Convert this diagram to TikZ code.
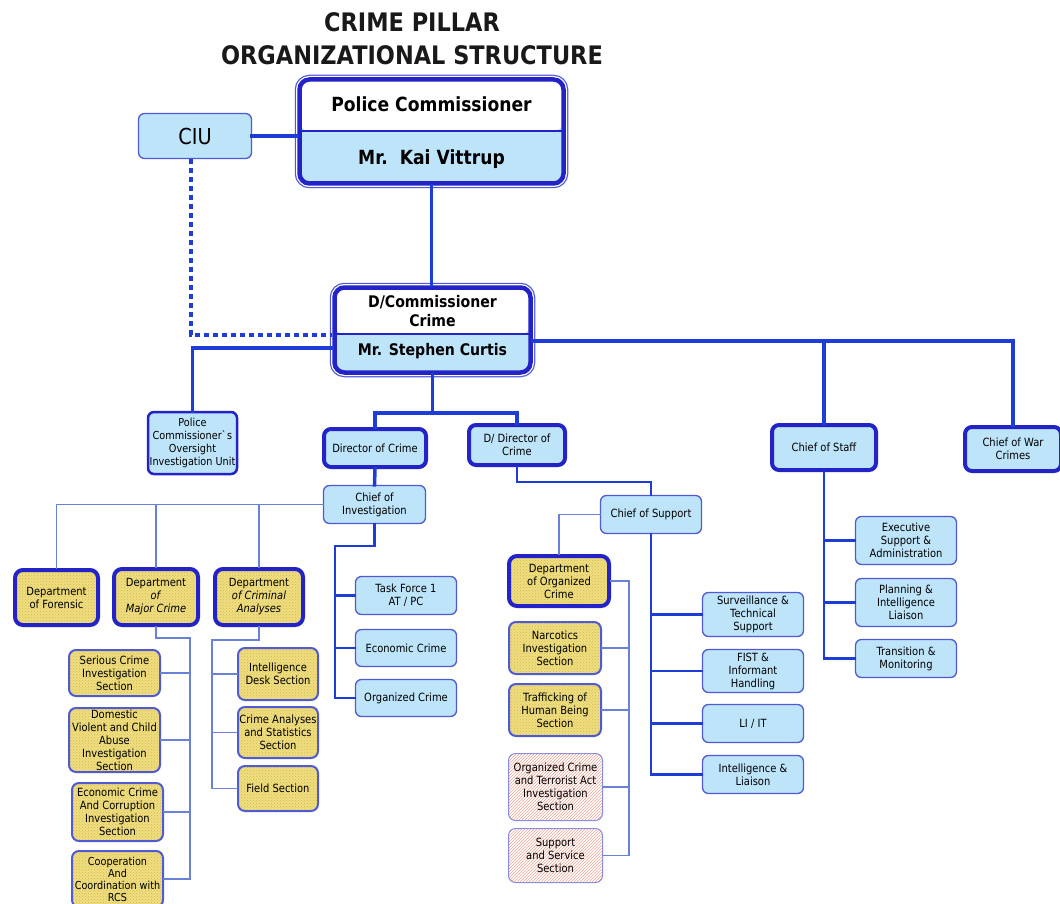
\documentclass[tikz,border=0pt]{standalone}
\usepackage{fontspec}
\setmainfont{DejaVu Sans}[FakeStretch=0.88]
\usetikzlibrary{patterns}

\definecolor{boxfill}{RGB}{190,228,250}
\definecolor{boxedge}{RGB}{80,90,210}
\definecolor{deepblue}{RGB}{35,35,200}
\definecolor{lineblue}{RGB}{30,60,215}
\definecolor{thinblue}{RGB}{105,130,215}
\definecolor{secyellow}{RGB}{240,222,125}
\definecolor{secdots}{RGB}{205,185,95}
\definecolor{hatchred}{RGB}{240,165,150}
\definecolor{hatchedge}{RGB}{140,140,220}

\newcommand{\orgfont}{\fontsize{11.3}{13}\selectfont}

\begin{document}
\begin{tikzpicture}[x=1pt, y=-1pt,
    orgunit/.style={rounded corners=6, fill=boxfill, draw=boxedge, line width=1.3,
        align=center, font=\orgfont, inner sep=0.5pt},
    headunit/.style={orgunit, draw=deepblue, line width=4, rounded corners=7},
    deptbox/.style={rounded corners=8, preaction={fill=secyellow}, pattern=crosshatch dots,
        pattern color=secdots, draw=deepblue, line width=4, align=center, font=\orgfont, inner sep=0.5pt},
    sectionbox/.style={deptbox, rounded corners=7, draw=boxedge, line width=2},
    newsection/.style={rounded corners=7, preaction={fill=white}, pattern=north east lines,
        pattern color=hatchred, draw=hatchedge, line width=1, align=center, font=\orgfont, inner sep=0.5pt},
    chiefbox/.style={rounded corners=10, fill=boxfill, draw=deepblue, line width=4.5, inner sep=0pt,
        preaction={draw=boxedge, line width=9.5}, preaction={draw=white, line width=7},
        path picture={
            \fill[white] (path picture bounding box.north west) rectangle ([yshift=-#1]path picture bounding box.north east);
            \draw[deepblue, line width=1.2] ([yshift=-#1]path picture bounding box.north west) -- ([yshift=-#1]path picture bounding box.north east);
        }},
    link/.style={draw=lineblue, line width=3.5, line cap=rect},
    sublink/.style={draw=lineblue, line width=2.5, line cap=rect},
    thinlink/.style={draw=thinblue, line width=1.5, line cap=rect},
    dotlink/.style={draw=lineblue, line width=3.5, dash pattern=on 5pt off 4pt}]

    \useasboundingbox (0,0) rectangle (1060,904);

    % Title
    \node[font=\bfseries\fontsize{25.5}{33}\selectfont, align=center, text=black!90] (title) at (412,39) {CRIME PILLAR\\ORGANIZATIONAL STRUCTURE};

    % Commissioner level
    \node[chiefbox=51.5pt, minimum width=264, minimum height=104] (pc) at (431.5,131.5) {};
    \node[font=\bfseries\fontsize{19.5}{23}\selectfont] (pctitle) at (431.5,104) {Police Commissioner};
    \node[font=\bfseries\fontsize{19.5}{23}\selectfont] (pcname) at (431.5,159) {Mr.\ \ Kai Vittrup};
    \node[orgunit, minimum width=113, minimum height=45, font=\fontsize{22}{26}\selectfont] (ciu) at (195,136) {CIU};

    \node[chiefbox=46.5pt, minimum width=196, minimum height=85] (dc) at (432.5,330) {};
    \node[font=\bfseries\fontsize{16}{19}\selectfont, align=center] (dctitle) at (432.5,311) {D/Commissioner\\Crime};
    \node[font=\bfseries\fontsize{16}{19}\selectfont] (dcname) at (432.5,351) {Mr. Stephen Curtis};

    % Second level
    \node[orgunit, draw=deepblue, line width=2.5, minimum width=89, minimum height=62, font=\fontsize{11}{13}\selectfont] (oversight) at (192.5,443) {Police\\Commissioner\textasciigrave s\\Oversight\\Investigation Unit};
    \node[headunit, minimum width=102, minimum height=38] (dir) at (375,448) {Director of Crime};
    \node[headunit, minimum width=96, minimum height=40] (ddir) at (517,445) {D/ Director of\\Crime};
    \node[headunit, minimum width=104, minimum height=45] (staff) at (824,447.5) {Chief of Staff};
    \node[headunit, minimum width=96, minimum height=44] (war) at (1013,449) {Chief of War\\Crimes};
    \node[orgunit, minimum width=102, minimum height=38] (ci) at (374.5,504.5) {Chief of\\Investigation};
    \node[orgunit, minimum width=101, minimum height=38] (cs) at (651,514.5) {Chief of Support};

    % Departments
    \node[deptbox, minimum width=83, minimum height=55] (forensic) at (56.5,597.5) {Department\\of Forensic};
    \node[deptbox, minimum width=84, minimum height=56] (major) at (156,597) {Department\\\textit{of}\\\textit{Major Crime}};
    \node[deptbox, minimum width=88, minimum height=56] (crimanal) at (259,597) {Department\\\textit{of Criminal}\\\textit{Analyses}};
    \node[deptbox, minimum width=100, minimum height=50] (orgdept) at (559,581) {Department\\of Organized\\Crime};

    % Sections of Major Crime
    \node[sectionbox, minimum width=91, minimum height=46] (serious) at (114.5,673) {Serious Crime\\Investigation\\Section};
    \node[sectionbox, minimum width=91, minimum height=64] (domestic) at (114.5,740) {Domestic\\Violent and Child\\Abuse\\Investigation\\Section};
    \node[sectionbox, minimum width=91, minimum height=58] (econcorr) at (117.5,812) {Economic Crime\\And Corruption\\Investigation\\Section};
    \node[sectionbox, minimum width=91, minimum height=56, font=\fontsize{11}{12}\selectfont] (coop) at (117.5,879) {Cooperation\\And\\Coordination with\\RCS};

    % Sections of Criminal Analyses
    \node[sectionbox, minimum width=80, minimum height=52] (inteldesk) at (278,674) {Intelligence\\Desk Section};
    \node[sectionbox, minimum width=80, minimum height=51] (crimestat) at (278,732.5) {Crime Analyses\\and Statistics\\Section};
    \node[sectionbox, minimum width=80, minimum height=45] (field) at (278,788.5) {Field Section};

    % Task forces
    \node[orgunit, minimum width=101, minimum height=38] (tf) at (406,595.5) {Task Force 1\\AT / PC};
    \node[orgunit, minimum width=101, minimum height=37] (ecr) at (406,648) {Economic Crime};
    \node[orgunit, minimum width=101, minimum height=37] (ocr) at (406,698) {Organized Crime};

    % Sections of Organized Crime
    \node[sectionbox, minimum width=92, minimum height=52] (narc) at (555,648) {Narcotics\\Investigation\\Section};
    \node[sectionbox, minimum width=92, minimum height=52] (traff) at (555,710) {Trafficking of\\Human Being\\Section};
    \node[newsection, minimum width=94, minimum height=67] (octa) at (555.5,787) {Organized Crime\\and Terrorist Act\\Investigation\\Section};
    \node[newsection, minimum width=94, minimum height=54] (supsvc) at (555.5,855.5) {Support\\and Service\\Section};

    % Support units
    \node[orgunit, minimum width=101, minimum height=44] (surv) at (753,614.5) {Surveillance \&\\Technical\\Support};
    \node[orgunit, minimum width=101, minimum height=43] (fist) at (753,671) {FIST \&\\Informant\\Handling};
    \node[orgunit, minimum width=101, minimum height=38] (liit) at (753,723.5) {LI / IT};
    \node[orgunit, minimum width=101, minimum height=38] (intlia) at (753,774.5) {Intelligence \&\\Liaison};

    % Staff units
    \node[orgunit, minimum width=101, minimum height=48] (exec) at (906,540.5) {Executive\\Support \&\\Administration};
    \node[orgunit, minimum width=101, minimum height=48] (plan) at (906,602.5) {Planning \&\\Intelligence\\Liaison};
    \node[orgunit, minimum width=101, minimum height=38] (trans) at (906,658.5) {Transition \&\\Monitoring};

    % Connectors, top
    \draw[link] (ciu.east) -- (ciu.east -| pc.west);
    \draw[dotlink] ([xshift=-4pt]ciu.south) |- ([yshift=-5pt]dc.west);
    \draw[link] (pc.south) -- (pc.south |- dc.north);
    \draw[link] ([yshift=-18pt]dc.west) -| (oversight.north);
    \draw[link] ([yshift=-11pt]dc.east) -| (staff.north);
    \draw[link] ([yshift=-11pt]dc.east) -| (war.north);

    % Connectors, directors
    \coordinate (dirsplit) at (432.5,413);
    \draw[link] (dc.south) -- (dirsplit);
    \draw[link] (dir.north) |- (dirsplit) -| (ddir.north);
    \draw[link] (dir.south) -- (ci.north);
    \draw[sublink] (ddir.south) -- ++(0,15) -| (cs.north);

    % Chief of Investigation
    \draw[thinlink] (ci.west) -| (forensic.north);
    \draw[thinlink] (ci.west) -| (major.north);
    \draw[thinlink] (ci.west) -| (crimanal.north);
    \coordinate (tfspine) at (335,546);
    \draw[sublink] (ci.south) |- (tfspine) -- (tfspine |- ocr.west);
    \foreach \n in {tf,ecr,ocr}
        \draw[sublink] (\n.west) -- (\n.west -| tfspine);

    % Major Crime
    \coordinate (mjspine) at (190,638);
    \draw[thinlink] (major.south) |- (mjspine) -- (mjspine |- coop.east);
    \foreach \n in {serious,domestic,econcorr,coop}
        \draw[thinlink] (\n.east) -- (\n.east -| mjspine);

    % Criminal Analyses
    \coordinate (caspine) at (212,640);
    \draw[thinlink] (crimanal.south) |- (caspine) -- (caspine |- field.west);
    \foreach \n in {inteldesk,crimestat,field}
        \draw[thinlink] (\n.west) -- (\n.west -| caspine);

    % Chief of Support
    \draw[thinlink] (cs.west) -| (orgdept.north);
    \coordinate (ogspine) at (629,581);
    \draw[thinlink] (orgdept.east) -- (ogspine) -- (ogspine |- supsvc.east);
    \foreach \n in {narc,traff,octa,supsvc}
        \draw[thinlink] (\n.east) -- (\n.east -| ogspine);
    \draw[sublink] (cs.south) -- (cs.south |- intlia.west);
    \foreach \n in {surv,fist,liit,intlia}
        \draw[sublink] (\n.west) -- (\n.west -| cs.south);

    % Chief of Staff
    \draw[sublink] (staff.south) -- (staff.south |- trans.west);
    \foreach \n in {exec,plan,trans}
        \draw[sublink] (\n.west) -- (\n.west -| staff.south);
\end{tikzpicture}
\end{document}
